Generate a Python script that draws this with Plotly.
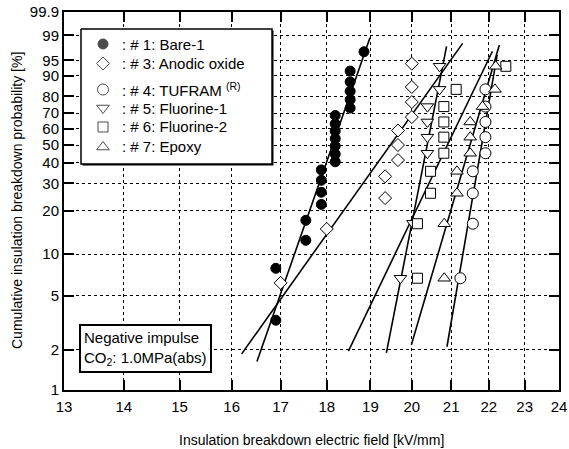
import math
import plotly.graph_objects as go

# ---------------- data ----------------
bare_x = [16.90, 16.90, 17.54, 17.54, 17.88, 17.88, 17.88, 17.88,
          18.19, 18.19, 18.19, 18.19, 18.19, 18.19, 18.19,
          18.53, 18.53, 18.53, 18.53, 18.53, 18.85]
bare_p = [3.3, 7.9, 12.5, 17.2, 22.0, 26.4, 31.4, 36.3,
          40.5, 44.7, 49.4, 53.9, 58.6, 63.2, 68.5,
          73.1, 78.1, 82.7, 87.3, 91.7, 96.9]

anodic_x = [17.0, 18.0, 19.35, 19.35, 19.66, 19.66, 19.66, 20.0, 20.0, 20.0, 20.0]
anodic_p = [6.2, 15.0, 24.2, 33.2, 41.4, 50.0, 59.0, 67.5, 76.7, 84.9, 94.1]

tufram_x = [21.24, 21.57, 21.57, 21.57, 21.91, 21.91, 21.91, 21.91, 21.91]
tufram_p = [6.7, 16.3, 26.0, 35.6, 45.2, 54.8, 64.4, 74.0, 83.7]

fluor1_x = [19.72, 20.03, 20.39, 20.39, 20.39, 20.39, 20.70, 20.70]
fluor1_p = [6.7, 16.4, 45.2, 54.8, 64.4, 74.0, 83.7, 93.3]

fluor2_x = [20.14, 20.14, 20.47, 20.47, 20.81, 20.81, 20.81, 20.81, 21.13, 22.47]
fluor2_p = [6.7, 16.3, 26.0, 35.6, 45.2, 54.8, 64.4, 74.0, 83.7, 93.3]

epoxy_x = [20.82, 20.82, 21.15, 21.15, 21.50, 21.50, 21.50, 21.83, 22.17, 22.19]
epoxy_p = [6.7, 16.3, 26.0, 35.6, 45.2, 54.8, 64.4, 74.0, 83.7, 93.3]

# fitted Weibull lines: (start, end) field and probability
bare_line_x = [16.51, 18.99];   bare_line_p = [1.63, 98.8]
anodic_line_x = [16.20, 21.30]; anodic_line_p = [1.86, 98.2]
tufram_line_x = [20.89, 22.23]; tufram_line_p = [2.10, 96.3]
fluor1_line_x = [19.38, 20.88]; fluor1_line_p = [1.89, 97.8]
fluor2_line_x = [18.49, 22.10]; fluor2_line_p = [1.95, 97.0]
epoxy_line_x = [19.99, 22.29];  epoxy_line_p = [2.17, 98.0]

x_ticks = [13, 14, 15, 16, 17, 18, 19, 20, 21, 22, 23, 24]
y_ticks = [1, 2, 5, 10, 20, 30, 40, 50, 60, 70, 80, 90, 95, 99, 99.9]
y_tick_text = ["1", "2", "5", "10", "20", "30", "40", "50", "60", "70", "80", "90", "95", "99", "99.9"]

names = [": # 1: Bare-1", ": # 3: Anodic oxide", ": # 4: TUFRAM <sup>(R)</sup>",
         ": # 5: Fluorine-1", ": # 6: Fluorine-2", ": # 7: Epoxy"]
symbols = ["circle", "diamond", "circle", "triangle-down", "square", "triangle-up"]
fills = ["black", "white", "white", "white", "white", "white"]
sizes = [10, 10, 11, 11, 10, 11]


def weib(p):
    """Weibull probability-paper scale."""
    return [math.log(-math.log(1.0 - v / 100.0)) for v in p]


FONT = "Liberation Sans, Arial, sans-serif"
fig = go.Figure()

# fitted lines
for lx, lp in [(bare_line_x, bare_line_p), (anodic_line_x, anodic_line_p),
               (tufram_line_x, tufram_line_p), (fluor1_line_x, fluor1_line_p),
               (fluor2_line_x, fluor2_line_p), (epoxy_line_x, epoxy_line_p)]:
    fig.add_trace(go.Scatter(x=lx, y=weib(lp), mode="lines",
                             line=dict(color="black", width=1.6),
                             showlegend=False, hoverinfo="skip"))

all_x = [bare_x, anodic_x, tufram_x, fluor1_x, fluor2_x, epoxy_x]
all_p = [bare_p, anodic_p, tufram_p, fluor1_p, fluor2_p, epoxy_p]
for sx, sp, nm, sym, fc, sz in zip(all_x, all_p, names, symbols, fills, sizes):
    fig.add_trace(go.Scatter(x=sx, y=weib(sp), mode="markers", name=nm, showlegend=False,
                             marker=dict(symbol=sym, size=sz, color=fc,
                                         line=dict(color="black", width=1))))

# ---- page geometry (body margin is reset to 0 in the written page) ----
W, H = 569, 449
# plot area in window pixels
PL, PR, PT, PB = 64, 559, 12, 390
L, R, T, B = PL, W - PR, PT, H - PB


def px_x(v):
    return (v - PL) / (PR - PL)


def px_y(v):
    return (PB - v) / (PB - PT)


def box(x0, y0, x1, y1, fill, lw):
    fig.add_trace(go.Scatter(x=[x0, x1, x1, x0, x0], y=[y0, y0, y1, y1, y0],
                             mode="lines", fill="toself", fillcolor=fill,
                             line=dict(color="black", width=lw),
                             xaxis="x2", yaxis="y2", showlegend=False,
                             hoverinfo="skip", cliponaxis=False))


# legend frame with a slight drop shadow
box(82.5, 30.5, 273.5, 165.5, "black", 0)
box(81, 29, 272, 164, "white", 1.5)

leg_rows = [44, 63.5, 89.5, 108, 127, 147]
fig.add_trace(go.Scatter(x=[103] * 6, y=leg_rows, mode="markers", xaxis="x2", yaxis="y2",
                         showlegend=False, hoverinfo="skip", cliponaxis=False,
                         marker=dict(symbol=symbols, size=sizes, color=fills,
                                     line=dict(color="black", width=1))))

ann = []
for nm, yy in zip(names, leg_rows):
    ann.append(dict(text=nm, xref="paper", yref="paper", x=px_x(120), y=px_y(yy),
                    xanchor="left", yanchor="middle", showarrow=False,
                    font=dict(size=15, family=FONT)))

ann += [
    dict(text="Insulation breakdown electric field [kV/mm]", xref="paper", yref="paper",
         x=0.5, y=px_y(440), xanchor="center", yanchor="middle",
         showarrow=False, font=dict(size=14, family=FONT)),
    dict(text="Cumulative insulation breakdown probability [%]", xref="paper", yref="paper",
         x=px_x(17), y=0.5, xanchor="center", yanchor="middle", textangle=-90,
         showarrow=False, font=dict(size=14, family=FONT)),
    dict(text="Negative impulse<br>CO<sub>2</sub>: 1.0MPa(abs)", xref="paper", yref="paper",
         x=px_x(79), y=px_y(373), xanchor="left", yanchor="bottom",
         align="left", showarrow=False, bgcolor="white", bordercolor="black",
         borderwidth=2, borderpad=3, font=dict(size=15, family=FONT)),
]

axis_common = dict(ticks="inside", ticklen=10, tickwidth=2, tickcolor="black",
                   showline=True, linewidth=2, linecolor="black", mirror="ticks",
                   showgrid=True, gridcolor="black", gridwidth=1, griddash="dot",
                   zeroline=False, ticklabeloverflow="allow",
                   tickfont=dict(size=15, family=FONT, color="black"))

fig.update_layout(
    width=W, height=H,
    margin=dict(l=L, r=R, t=T, b=B, autoexpand=False),
    paper_bgcolor="white", plot_bgcolor="white",
    font=dict(family=FONT, size=14, color="black"),
    showlegend=False,
    xaxis=dict(type="log", range=[math.log10(13), math.log10(24)],
               tickvals=x_ticks, ticktext=[str(v) for v in x_ticks],
               ticklabelstandoff=2, **axis_common),
    yaxis=dict(range=[weib([1])[0], weib([99.9])[0]],
               tickvals=weib(y_ticks), ticktext=y_tick_text, **axis_common),
    xaxis2=dict(overlaying="x", range=[PL, PR], showgrid=False, showticklabels=False,
                showline=False, zeroline=False, ticks="", fixedrange=True),
    yaxis2=dict(overlaying="y", range=[PB, PT], showgrid=False, showticklabels=False,
                showline=False, zeroline=False, ticks="", fixedrange=True),
    annotations=ann,
)

fig.write_html("out.html",
               config={"displayModeBar": False, "staticPlot": True},
               post_script="document.body.style.margin='0';document.body.style.overflow='hidden';")
